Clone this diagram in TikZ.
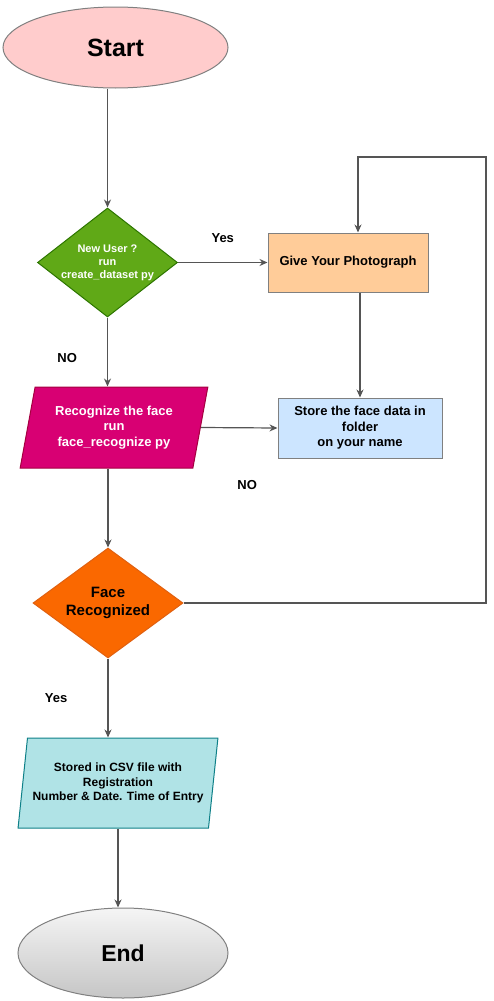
\documentclass[tikz,border=0pt]{standalone}
\usepackage{fontspec}
\setmainfont{Liberation Sans}
\usetikzlibrary{arrows.meta,shapes}
\definecolor{startfill}{HTML}{FFCCCC}
\definecolor{userfill}{HTML}{60A917}
\definecolor{userline}{HTML}{2D7600}
\definecolor{photofill}{HTML}{FFCC99}
\definecolor{storefill}{HTML}{CCE5FF}
\definecolor{recogfill}{HTML}{D80073}
\definecolor{recogline}{HTML}{A50040}
\definecolor{facefill}{HTML}{FA6800}
\definecolor{faceline}{HTML}{E06010}
\definecolor{csvfill}{HTML}{B0E3E6}
\definecolor{csvline}{HTML}{0E8088}
\definecolor{boxline}{HTML}{808080}
\definecolor{flowline}{HTML}{555555}
\tikzstyle{terminal}=[ellipse, draw=boxline, line width=1pt, text centered, inner sep=0pt]
\tikzstyle{decision}=[diamond, line width=1pt, text centered, align=center, inner sep=0pt]
\tikzstyle{process}=[rectangle, draw=boxline, line width=1pt, text centered, align=center, inner sep=0pt]
\tikzstyle{io}=[trapezium, trapezium stretches=true, line width=1pt, text centered, align=center, inner sep=0pt]
\tikzstyle{lbl}=[inner sep=0pt, font=\bfseries\fontsize{13}{15}\selectfont]
\tikzstyle{flow}=[draw=flowline, line width=1.2pt, ->]

\begin{document}
\begin{tikzpicture}[x=1pt, y=-1pt, >={Stealth[length=8pt,width=7pt]}]
  \useasboundingbox (0,0) rectangle (494,1001);

  \node(start)[terminal, fill=startfill, minimum width=225pt, minimum height=81pt,
    font=\bfseries\fontsize{25}{28}\selectfont] at (115.5,47.5) {Start};

  \path(start)+(-8,215) node(user)[decision, fill=userfill, draw=userline,
    aspect=1.28, minimum width=140pt, minimum height=109pt, text=white,
    font=\bfseries\fontsize{11}{13}\selectfont]{
    New User ?\\
    run\\
    create\_dataset py
  };
  \draw[flow] (start.south -| user.north) -- (user.north);

  \path(user)+(240.5,0) node(photo)[process, fill=photofill,
    minimum width=160pt, minimum height=59pt,
    font=\bfseries\fontsize{13}{15.5}\selectfont]{Give Your Photograph};
  \draw[flow] (user.east) -- (photo.west)
  node(yes1)[lbl, midway, above=19pt]{Yes};

  \path(photo)+(12,165.5) node(store)[process, fill=storefill,
    minimum width=164pt, minimum height=60pt,
    font=\bfseries\fontsize{13}{15.5}\selectfont]{
    Store the face data in\\
    folder\\
    on your name
  };
  \draw[flow] (photo.south -| store.north) -- (store.north);

  \path(user)+(6.5,165) node(recog)[io, fill=recogfill, draw=recogline,
    trapezium left angle=75.5, trapezium right angle=104.5,
    minimum width=188pt, minimum height=81pt, text=white,
    font=\bfseries\fontsize{13}{15.5}\selectfont]{
    Recognize the face\\
    run\\
    face\_recognize py
  };
  \draw[flow] (user.south) -- (user.south |- recog.north)
  node(no1)[lbl, midway, left=30pt, yshift=-6pt]{NO};
  \draw[flow] (recog.east) -- (store.west)
  node(no2)[lbl, midway, below=52pt, xshift=8pt]{NO};

  \path(recog)+(-6,175.5) node(face)[decision, fill=facefill, draw=faceline,
    aspect=1.36, minimum width=150pt, minimum height=110pt,
    font=\bfseries\fontsize{15}{18}\selectfont]{
    Face\\
    Recognized
  };
  \draw[flow] (recog.south -| face.north) -- (face.north);

  \coordinate(turn) at (486,157);
  \draw[flow] (face.east) -| (turn) -| ([xshift=10pt]photo.north);

  \path(face)+(10,180) node(csv)[io, fill=csvfill, draw=csvline,
    trapezium left angle=77.5, trapezium right angle=102.5,
    minimum width=200pt, minimum height=90pt,
    font=\bfseries\fontsize{12}{14.5}\selectfont]{
    Stored in CSV file with\\
    Registration\\
    Number \& Date. Time of Entry
  };
  \draw[flow] (face.south) -- (face.south |- csv.north)
  node(yes2)[lbl, midway, left=40pt]{Yes};

  \path(csv)+(5,170) node(end)[terminal, top color=gray!8, bottom color=gray!45,
    draw=gray, minimum width=210pt, minimum height=90pt,
    font=\bfseries\fontsize{23}{26}\selectfont]{End};
  \draw[flow] (csv.south) -- (csv.south |- end.north);
\end{tikzpicture}
\end{document}
